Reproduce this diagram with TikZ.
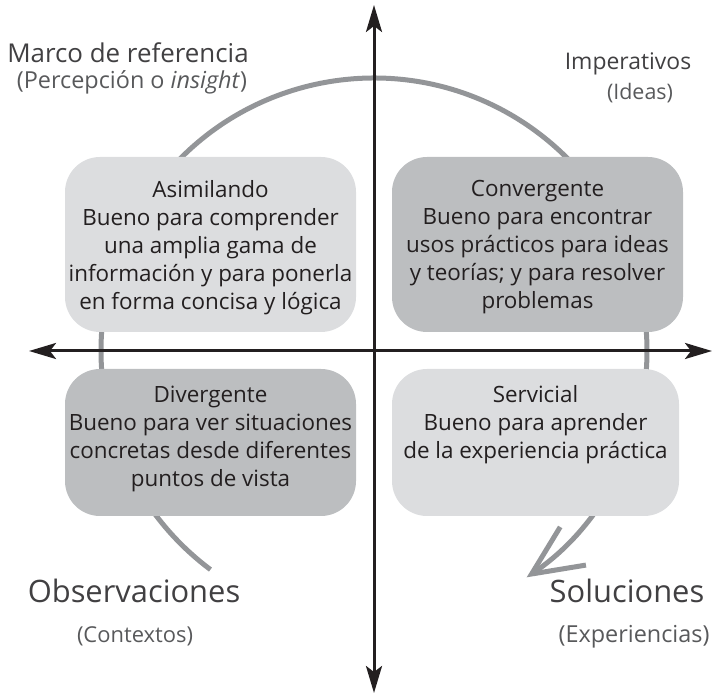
\documentclass[tikz,border=0pt]{standalone}
\usepackage{fontspec}
\setmainfont{Open Sans}
\usepackage{tikz}
\usetikzlibrary{arrows.meta}
\usepackage{xcolor}

\definecolor{inkblack}{HTML}{231F20}
\definecolor{ringgray}{HTML}{939598}
\definecolor{boxlight}{HTML}{DCDDDF}
\definecolor{boxdark}{HTML}{BCBEC0}
\definecolor{titlegray}{HTML}{414042}
\definecolor{subgray}{HTML}{58595B}

\begin{document}
\begin{tikzpicture}[x=1bp, y=1bp,
  axis/.style={line width=3bp, draw=inkblack,
    {Stealth[length=27bp, width=16bp, inset=6bp]}-{Stealth[length=27bp, width=16bp, inset=6bp]}},
  ring/.style={line width=5bp, draw=ringgray, -{Straight Barb[length=50bp, width=46bp]}},
  lightbox/.style={fill=boxlight, rounded corners=35bp},
  darkbox/.style={fill=boxdark, rounded corners=35bp},
  boxtext/.style={anchor=base, align=center, text=inkblack, inner sep=0pt,
    font=\fontsize{22.5}{28.2}\selectfont},
  corner/.style={anchor=base, text=titlegray, inner sep=0pt},
  cornersub/.style={anchor=base, text=subgray, inner sep=0pt}]
  \useasboundingbox (0,0) rectangle (713,694);

  \coordinate (O) at (374, 343);
  \coordinate (N) at (374, 689);
  \coordinate (S) at (374, 1);
  \coordinate (W) at (29, 343);
  \coordinate (E) at (712, 343);

  % cycle ring, behind everything
  \draw[ring] (O) ++(233.2:273) arc[start angle=233.2, end angle=-56, radius=273];

  % quadrant boxes
  \fill[lightbox] (65, 362) rectangle (356, 537);
  \fill[darkbox] (392, 362) rectangle (683, 537);
  \fill[darkbox] (65, 178) rectangle (356, 325);
  \fill[lightbox] (392, 178) rectangle (679, 325);

  % axes
  \draw[axis] (S) -- (N);
  \draw[axis] (W) -- (E);

  % base = last line of each block
  \node[boxtext] (asim) at (210.5, 384) {Asimilando\\Bueno para comprender\\una amplia gama de\\información y para ponerla\\en forma concisa y lógica};
  \node[boxtext] (conv) at (537.5, 385) {Convergente\\Bueno para encontrar\\usos prácticos para ideas\\y teorías; y para resolver\\problemas};
  \node[boxtext] (div) at (210.5, 207) {Divergente\\Bueno para ver situaciones\\concretas desde diferentes\\puntos de vista};
  \node[boxtext] (serv) at (535.5, 235) {Servicial\\Bueno para aprender\\de la experiencia práctica};

  \node[corner, font=\fontsize{26}{30}\selectfont] (marco) at (128, 631) {Marco de referencia};
  \node[cornersub, font=\fontsize{23.5}{28}\selectfont] (percep) at (132, 605) {(Percepción o \textit{insight})};
  \node[corner, font=\fontsize{23}{28}\selectfont] (imper) at (628, 624) {Imperativos};
  \node[cornersub, font=\fontsize{21.5}{26}\selectfont] (ideas) at (640, 594) {(Ideas)};
  \node[corner, font=\fontsize{31}{34}\selectfont] (obs) at (134, 91) {Observaciones};
  \node[cornersub, font=\fontsize{22}{26}\selectfont] (ctx) at (135, 51) {(Contextos)};
  \node[corner, font=\fontsize{31}{34}\selectfont] (sol) at (627, 91) {Soluciones};
  \node[cornersub, font=\fontsize{23.5}{28}\selectfont] (exp) at (634, 51) {(Experiencias)};
\end{tikzpicture}
\end{document}
